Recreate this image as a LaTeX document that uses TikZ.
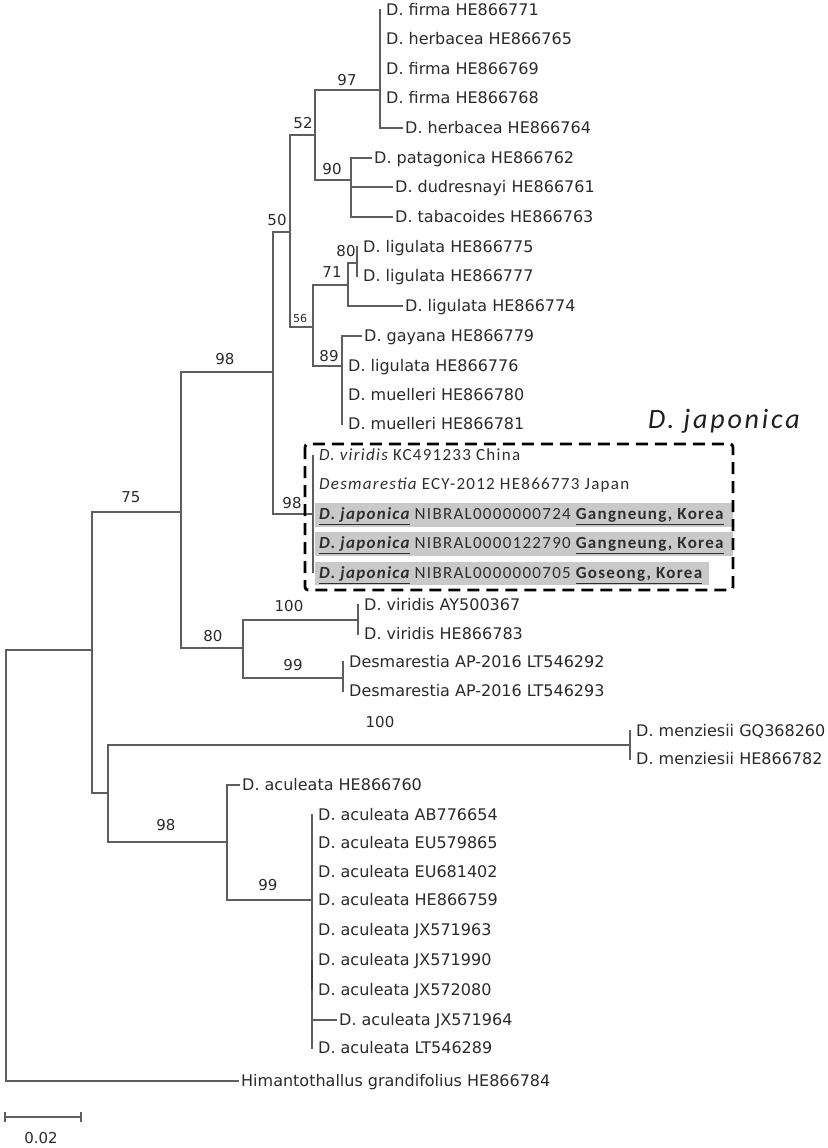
\documentclass[tikz,border=0pt]{standalone}
\usepackage{fontspec}
\setmainfont{DejaVu Sans}
\newfontfamily\boxfont[LetterSpace=7.5]{Carlito}
\newfontfamily\titlefont[LetterSpace=10]{Carlito}
\definecolor{linec}{HTML}{5E5E5E}
\definecolor{txtc}{HTML}{2A2A2A}
\definecolor{hl}{HTML}{C9C9C9}
\begin{document}
\begin{tikzpicture}[x=1pt,y=-1pt,
  br/.style={draw=linec,line width=1.6pt,line cap=rect},
  leaf/.style={anchor=west,inner xsep=3pt,inner ysep=0pt,text height=11.6pt,text depth=0pt,text=txtc,font=\fontsize{16}{17}\selectfont},
  boxleaf/.style={anchor=west,inner xsep=3pt,inner ysep=0pt,text height=10.9pt,text depth=0pt,text=black!82,font=\boxfont\fontsize{17}{18}\selectfont},
  bs/.style={inner sep=0pt,text=txtc,font=\fontsize{15}{16}\selectfont},
  bsmall/.style={inner sep=0pt,text=txtc,font=\fontsize{11}{12}\selectfont},
  jbox/.style={draw=black,line width=2.8pt,dash pattern=on 12pt off 7pt,rounded corners=3pt},
]
\useasboundingbox (0,0) rectangle (827,1148);

% highlight bands
\fill[hl] (315,503) rectangle (733,527);
\fill[hl] (315,532) rectangle (733,556);
\fill[hl] (315,562) rectangle (709,585);

% internal nodes
\coordinate (R0) at (6,650);
\coordinate (A) at (92,650);
\coordinate (C75) at (181,512);
\coordinate (D98) at (273,372);
\coordinate (E50) at (290,232);
\coordinate (F52) at (315,135);
\coordinate (G97) at (380,90);
\coordinate (H90) at (351,180);
\coordinate (I56) at (313,327);
\coordinate (J71) at (348,285);
\coordinate (K80) at (357,263);
\coordinate (L89) at (342,366);
\coordinate (M98) at (313,514);
\coordinate (N80) at (243,648);
\coordinate (O100) at (358,620);
\coordinate (P99) at (343,678);
\coordinate (B) at (108,793);
\coordinate (Mz) at (630,745);
\coordinate (Q98) at (227,842);
\coordinate (R99) at (312,900);

% leaves
\node[leaf] (t1) at (383,10) {D. firma HE866771};
\node[leaf] (t2) at (383,39) {D. herbacea HE866765};
\node[leaf] (t3) at (383,69) {D. firma HE866769};
\node[leaf] (t4) at (383,98) {D. firma HE866768};
\node[leaf] (t5) at (402,128) {D. herbacea HE866764};
\node[leaf] (t6) at (371,158) {D. patagonica HE866762};
\node[leaf] (t7) at (392,187) {D. dudresnayi HE866761};
\node[leaf] (t8) at (392,217) {D. tabacoides HE866763};
\node[leaf] (t9) at (360,247) {D. ligulata HE866775};
\node[leaf] (t10) at (360,276) {D. ligulata HE866777};
\node[leaf] (t11) at (402,306) {D. ligulata HE866774};
\node[leaf] (t12) at (361,336) {D. gayana HE866779};
\node[leaf] (t13) at (345,366) {D. ligulata HE866776};
\node[leaf] (t14) at (345,395) {D. muelleri HE866780};
\node[leaf] (t15) at (345,424) {D. muelleri HE866781};
\node[boxleaf] (t16) at (316,455) {{\itshape D. viridis} KC491233 China};
\node[boxleaf] (t17) at (316,484) {{\itshape Desmarestia} ECY-2012 HE866773 Japan};
\node[boxleaf] (t18) at (316,514) {{\bfseries\itshape\underline{D. japonica}} NIBRAL0000000724 {\bfseries\underline{Gangneung, Korea}}};
\node[boxleaf] (t19) at (316,543) {{\bfseries\itshape\underline{D. japonica}} NIBRAL0000122790 {\bfseries\underline{Gangneung, Korea}}};
\node[boxleaf] (t20) at (316,573) {{\bfseries\itshape\underline{D. japonica}} NIBRAL0000000705 {\bfseries\underline{Goseong, Korea}}};
\node[leaf] (t21) at (361,605) {D. viridis AY500367};
\node[leaf] (t22) at (361,634) {D. viridis HE866783};
\node[leaf] (t23) at (346,662) {Desmarestia AP-2016 LT546292};
\node[leaf] (t24) at (346,691) {Desmarestia AP-2016 LT546293};
\node[leaf] (t25) at (633,731) {D. menziesii GQ368260};
\node[leaf] (t26) at (633,759) {D. menziesii HE866782};
\node[leaf] (t27) at (239,785) {D. aculeata HE866760};
\node[leaf] (t28) at (315,815) {D. aculeata AB776654};
\node[leaf] (t29) at (315,843) {D. aculeata EU579865};
\node[leaf] (t30) at (315,872) {D. aculeata EU681402};
\node[leaf] (t31) at (315,900) {D. aculeata HE866759};
\node[leaf] (t32) at (315,930) {D. aculeata JX571963};
\node[leaf] (t33) at (315,960) {D. aculeata JX571990};
\node[leaf] (t34) at (315,990) {D. aculeata JX572080};
\node[leaf] (t35) at (336,1020) {D. aculeata JX571964};
\node[leaf] (t36) at (315,1048) {D. aculeata LT546289};
\node[leaf] (t37) at (238,1081) {Himantothallus grandifolius HE866784};

% branches
\draw[br] (R0) -- (A);
\draw[br] (R0) |- (t37.west);
\draw[br] (A) |- (C75);
\draw[br] (A) |- (B);
\draw[br] (C75) |- (D98);
\draw[br] (C75) |- (N80);
\draw[br] (D98) |- (E50);
\draw[br] (D98) |- (M98);
\draw[br] (E50) |- (F52);
\draw[br] (E50) |- (I56);
\draw[br] (F52) |- (G97);
\draw[br] (F52) |- (H90);
\draw[br] (G97) -- (G97 |- t1.west);
\draw[br] (G97) |- (t5.west);
\draw[br] (H90) |- (t6.west);
\draw[br] (H90) |- (t7.west);
\draw[br] (H90) |- (t8.west);
\draw[br] (I56) |- (J71);
\draw[br] (I56) |- (L89);
\draw[br] (J71) |- (K80);
\draw[br] (J71) |- (t11.west);
\draw[br] (K80) -- (K80 |- t9.west);
\draw[br] (K80) -- (K80 |- t10.west);
\draw[br] (L89) |- (t12.west);
\draw[br] (L89) -- (L89 |- t15.west);
\draw[draw=linec,line width=1.1pt] (M98 |- t16.west) -- (M98 |- t20.west);
\draw[br] (N80) |- (O100);
\draw[br] (N80) |- (P99);
\draw[br] (O100) -- (O100 |- t21.west);
\draw[br] (O100) -- (O100 |- t22.west);
\draw[br] (P99) -- (P99 |- t23.west);
\draw[br] (P99) -- (P99 |- t24.west);
\draw[br] (B) |- (Mz);
\draw[br] (B) |- (Q98);
\draw[br] (Mz) -- (Mz |- t25.west);
\draw[br] (Mz) -- (Mz |- t26.west);
\draw[br] (Q98) |- (t27.west);
\draw[br] (Q98) |- (R99);
\draw[br] (R99) -- (R99 |- t28.west);
\draw[br] (R99) -- (R99 |- t36.west);
\draw[br] (R99) |- (t35.west);
\draw[draw=black!75,line width=2.6pt] (R99 |- t33.west) -- (R99 |- t34.west);

% bootstrap values
\node[bs] (b97) at (347,80) {97};
\node[bs] (b52) at (303,123) {52};
\node[bs] (b90) at (332,169) {90};
\node[bs] (b50) at (277,220) {50};
\node[bsmall] (b56) at (300,318) {56};
\node[bs] (b71) at (332,272) {71};
\node[bs] (b80a) at (346,251) {80};
\node[bs] (b89) at (329,356) {89};
\node[bs] (b98j) at (292,503) {98};
\node[bs] (b98) at (225,359) {98};
\node[bs] (b75) at (131,497) {75};
\node[bs] (b80) at (213,636) {80};
\node[bs] (b100) at (289,606) {100};
\node[bs] (b99) at (293,665) {99};
\node[bs] (b100m) at (380,722) {100};
\node[bs] (b98a) at (166,825) {98};
\node[bs] (b99a) at (268,885) {99};

% D. japonica box
\draw[jbox] (305,444) rectangle (733,590);
\node[inner sep=0pt,text=black!88,font=\titlefont\itshape\fontsize{28}{30}\selectfont] (title) at (724,421) {D. japonica};

% scale bar
\coordinate (sL) at (5,1117);
\coordinate (sR) at (81,1117);
\draw[br,line cap=butt] (sL) -- (sR);
\draw[br,line cap=butt] ([yshift=5pt]sL) -- ([yshift=-5pt]sL);
\draw[br,line cap=butt] ([yshift=5pt]sR) -- ([yshift=-5pt]sR);
\node[bs] (sbl) at (41,1138) {0.02};
\end{tikzpicture}
\end{document}
